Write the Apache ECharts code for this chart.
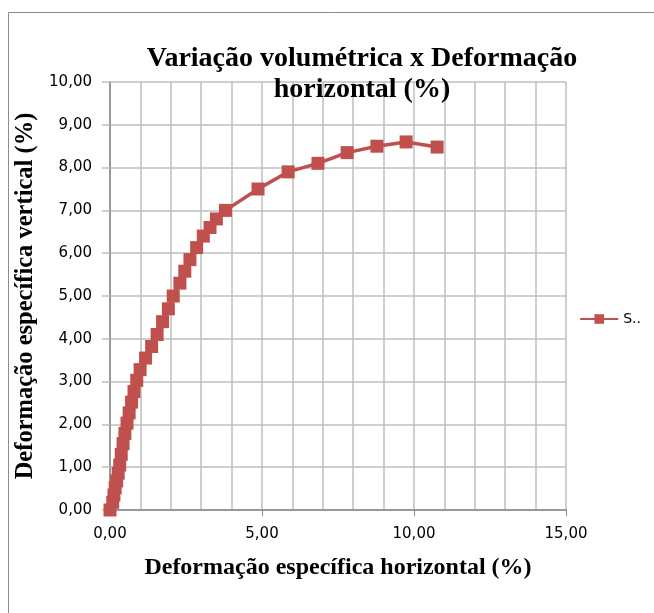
<!DOCTYPE html>
<html>
<head>
<meta charset="utf-8">
<script src="https://cdn.jsdelivr.net/npm/echarts@6/dist/echarts.min.js"></script>
<style>html,body{margin:0;padding:0;background:#fff;}#c{width:654px;height:613px;}</style>
</head>
<body>
<div id="c"></div>
<script>
const seriesName = 'S..';
const xValues = [0, 0.09, 0.13, 0.17, 0.22, 0.27, 0.32, 0.37, 0.43, 0.49, 0.56, 0.63, 0.71, 0.79, 0.88, 0.99, 1.17, 1.37, 1.55, 1.73, 1.92, 2.08, 2.30, 2.46, 2.63, 2.85, 3.07, 3.29, 3.50, 3.80, 4.87, 5.86, 6.84, 7.80, 8.78, 9.74, 10.76];
const yValues = [0, 0.18, 0.35, 0.52, 0.68, 0.86, 1.05, 1.30, 1.55, 1.79, 2.03, 2.27, 2.52, 2.77, 3.03, 3.28, 3.55, 3.82, 4.10, 4.40, 4.70, 5.00, 5.30, 5.58, 5.85, 6.13, 6.40, 6.60, 6.80, 7.00, 7.50, 7.90, 8.10, 8.35, 8.50, 8.60, 8.48];
const titleText = 'Variação volumétrica x Deformação\nhorizontal (%)';
const xAxisName = 'Deformação específica horizontal (%)';
const yAxisName = 'Deformação específica vertical (%)';

const fmt = v => v.toFixed(2).replace('.', ',');
const data = xValues.map((x, i) => [x, yValues[i]]);

const chart = echarts.init(document.getElementById('c'), null, {renderer: 'canvas'});
chart.setOption({
  animation: false,
  backgroundColor: '#fff',
  graphic: [{
    type: 'rect', shape: {x: 8.5, y: 12.5, width: 700, height: 700},
    style: {fill: 'none', stroke: '#8c8c8c', lineWidth: 1}, z: -1
  }],
  title: {
    text: titleText, left: 357, top: 38, textAlign: 'center',
    textStyle: {fontFamily: 'Liberation Serif', fontWeight: 'bold', fontSize: 28, lineHeight: 31, color: '#000'}
  },
  legend: {
    right: 8, top: 307, orient: 'vertical', itemWidth: 38, itemHeight: 12, itemGap: 4,
    textStyle: {fontFamily: 'DejaVu Sans', fontSize: 14, color: '#000'},
    data: [seriesName]
  },
  grid: {left: 110, right: 88, top: 82, bottom: 103, containLabel: false},
  xAxis: {
    type: 'value', min: 0, max: 15, interval: 5,
    name: xAxisName, nameLocation: 'middle', nameGap: 46,
    nameTextStyle: {fontFamily: 'Liberation Serif', fontWeight: 'bold', fontSize: 24, color: '#000'},
    axisLine: {show: true, lineStyle: {color: '#868686', width: 1.5}},
    axisTick: {show: true, length: 6, lineStyle: {color: '#868686'}},
    minorTick: {show: false, splitNumber: 5},
    splitLine: {show: true, lineStyle: {color: '#bfbfbf', width: 1.5}},
    minorSplitLine: {show: true, lineStyle: {color: '#bfbfbf', width: 1.5}},
    axisLabel: {formatter: fmt, margin: 17, fontFamily: 'DejaVu Sans', fontSize: 15, color: '#000'}
  },
  yAxis: {
    type: 'value', min: 0, max: 10, interval: 1,
    name: yAxisName, nameLocation: 'middle', nameGap: 67, nameRotate: 90,
    nameTextStyle: {fontFamily: 'Liberation Serif', fontWeight: 'bold', fontSize: 24.5, color: '#000', padding: [0, 0, 0, 0]},
    axisLine: {show: true, lineStyle: {color: '#868686', width: 1.5}},
    axisTick: {show: true, length: 8, lineStyle: {color: '#bfbfbf', width: 1.5}},
    splitLine: {show: true, lineStyle: {color: '#bfbfbf', width: 1.5}},
    axisLabel: {formatter: fmt, margin: 18, fontFamily: 'DejaVu Sans', fontSize: 15, color: '#000'}
  },
  series: [{
    name: seriesName, type: 'line', data: data,
    symbol: 'rect', symbolSize: 13,
    itemStyle: {color: '#C0504D'},
    lineStyle: {color: '#C0504D', width: 3.5},
    clip: false
  }]
});
</script>
</body>
</html>
